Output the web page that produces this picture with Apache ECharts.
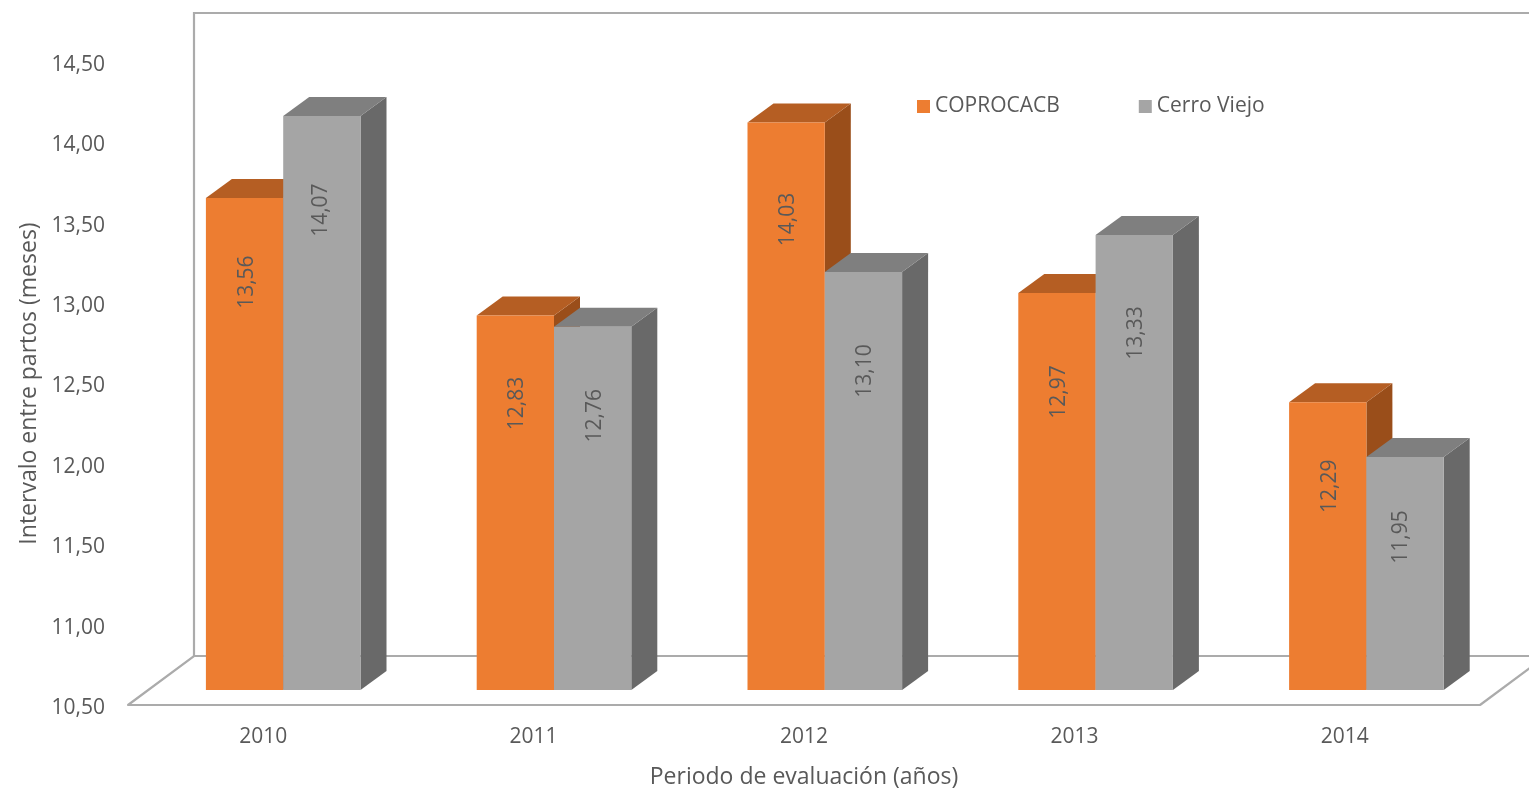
<!DOCTYPE html>
<html>
<head>
<meta charset="utf-8">
<style>html,body{margin:0;padding:0;background:#fff}#c{width:1529px;height:788px}</style>
<script src="https://cdn.jsdelivr.net/npm/echarts@6/dist/echarts.min.js"></script>
</head>
<body>
<div id="c"></div>
<script>
const categories = ['2010', '2011', '2012', '2013', '2014'];
const coprocacb = [13.56, 12.83, 14.03, 12.97, 12.29];
const cerroViejo = [14.07, 12.76, 13.10, 13.33, 11.95];
const seriesNames = ['COPROCACB', 'Cerro Viejo'];

// styling / layout constants
const FONT = '"Open Sans"';
const TEXT = '#595959';
const LINE = '#ABABAB';
const BAR_SHIFT_X = 20, BAR_SHIFT_Y = 15;   // front plane of the bars inside the floor
const BAR_SPREAD = 0.4;                     // extra spacing of the bar groups per category
const BAR_DX = 26, BAR_DY = 19;             // bar depth
const WALL_DX = 66, WALL_DY = 49;           // floor depth
const BAR_FRAC = 77.3 / 270.4;
const labelDropA = [84, 88, 97, 99, 84];
const labelDropB = [94, 89, 99, 98, 80];
const labelNudgeA = [2, 2, 2, 2, 2];
const labelNudgeB = [-1, 2, 2, 2, -4];
const fmt = v => v.toFixed(2).replace('.', ',');

function barRenderer(side, cols, drops, nudges) {
  return function (params, api) {
    const i = api.value(0), v = api.value(1);
    const top = api.coord([i, v]);
    const base = api.coord([i, 10.5]);
    const w = api.size([1, 0])[0] * BAR_FRAC;
    const x0 = top[0] + BAR_SHIFT_X + i * BAR_SPREAD + (side < 0 ? -w : 0);
    const x1 = x0 + w;
    const yT = top[1] - BAR_SHIFT_Y;
    const yB = base[1] - BAR_SHIFT_Y;
    return {
      type: 'group',
      children: [
        { type: 'polygon', shape: { points: [[x1, yT], [x1 + BAR_DX, yT - BAR_DY], [x1 + BAR_DX, yB - BAR_DY], [x1, yB]] }, style: { fill: cols.side } },
        { type: 'polygon', shape: { points: [[x0, yT], [x0 + BAR_DX, yT - BAR_DY], [x1 + BAR_DX, yT - BAR_DY], [x1, yT]] }, style: { fill: cols.top } },
        { type: 'rect', shape: { x: x0, y: yT, width: w, height: yB - yT }, style: { fill: cols.front } },
        { type: 'text', x: (x0 + x1) / 2 + nudges[i], y: yT + drops[i], rotation: Math.PI / 2,
          style: { text: fmt(v), fill: TEXT, font: '21px ' + FONT, align: 'center', verticalAlign: 'middle' } }
      ]
    };
  };
}

function frameRenderer(params) {
  const c = params.coordSys;
  const l = c.x, r = c.x + c.width, b = c.y + c.height, t = c.y;
  const ls = { stroke: LINE, lineWidth: 2.2, fill: 'none' };
  return {
    type: 'group',
    children: [
      { type: 'polyline', shape: { points: [[l, b], [l + WALL_DX, b - WALL_DY], [r + WALL_DX, b - WALL_DY]] }, style: ls },
      { type: 'polyline', shape: { points: [[l + WALL_DX, b - WALL_DY], [l + WALL_DX, t - WALL_DY], [r + WALL_DX, t - WALL_DY]] }, style: ls },
      { type: 'line', shape: { x1: r, y1: b, x2: r + WALL_DX, y2: b - WALL_DY }, style: ls }
    ]
  };
}

const orange = { front: '#ED7D31', top: '#B55E23', side: '#9A4E1A' };
const gray = { front: '#A5A5A5', top: '#7F7F7F', side: '#696969' };

const chart = echarts.init(document.getElementById('c'), null, { renderer: 'canvas' });
chart.setOption({
  animation: false,
  backgroundColor: '#fff',
  textStyle: { fontFamily: FONT },
  grid: { left: 128, right: 49, top: 62, bottom: 83, containLabel: false, outerBoundsMode: 'none' },
  legend: {
    data: seriesNames,
    left: 917, top: 96, padding: 0,
    itemWidth: 13, itemHeight: 13, itemGap: 79,
    icon: 'rect',
    selectedMode: false,
    textStyle: { color: TEXT, fontSize: 21, fontFamily: FONT }
  },
  xAxis: {
    type: 'category',
    data: categories,
    name: 'Periodo de evaluación (años)',
    nameLocation: 'middle',
    nameGap: 61,
    nameTextStyle: { color: TEXT, fontSize: 23, fontFamily: FONT },
    axisLine: { show: true, lineStyle: { color: LINE, width: 2.2 } },
    axisTick: { show: false },
    axisLabel: { color: TEXT, fontSize: 21, fontFamily: FONT, margin: 22 }
  },
  yAxis: {
    type: 'value',
    min: 10.5, max: 14.5, interval: 0.5,
    name: 'Intervalo entre partos (meses)',
    nameLocation: 'middle',
    nameGap: 87,
    nameTextStyle: { color: TEXT, fontSize: 23, fontFamily: FONT },
    axisLine: { show: false },
    axisTick: { show: false },
    splitLine: { show: false },
    axisLabel: { color: TEXT, fontSize: 21, fontFamily: FONT, margin: 23, verticalAlign: 'top', lineHeight: 6, formatter: fmt }
  },
  series: [
    { type: 'custom', name: 'frame', silent: true, data: [[0, 10.5]], encode: { x: 0, y: 1 }, renderItem: frameRenderer, clip: false },
    { type: 'custom', name: seriesNames[0], itemStyle: { color: orange.front }, encode: { x: 0, y: 1 },
      data: coprocacb.map((v, i) => [i, v]), renderItem: barRenderer(-1, orange, labelDropA, labelNudgeA), clip: false },
    { type: 'custom', name: seriesNames[1], itemStyle: { color: gray.front }, encode: { x: 0, y: 1 },
      data: cerroViejo.map((v, i) => [i, v]), renderItem: barRenderer(1, gray, labelDropB, labelNudgeB), clip: false }
  ]
});
</script>
</body>
</html>
